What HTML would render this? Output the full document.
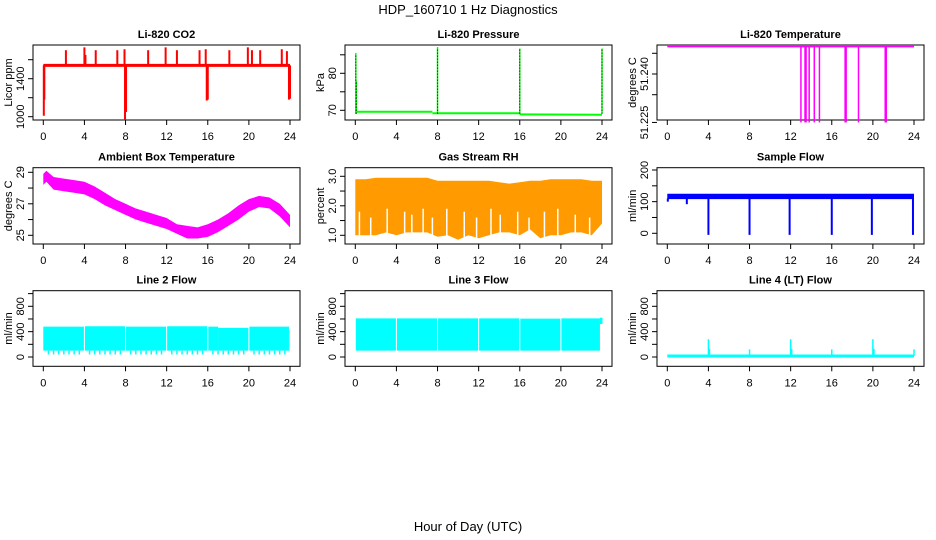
<!DOCTYPE html>
<html><head><meta charset="utf-8"><style>
html,body{margin:0;padding:0;background:#fff}
svg{display:block;font-family:"Liberation Sans",sans-serif}
</style></head><body>
<svg id="c" width="936" height="540" viewBox="0 0 936 540" xmlns="http://www.w3.org/2000/svg">
<text x="468" y="14" text-anchor="middle" font-size="13">HDP_160710  1 Hz Diagnostics</text>
<text x="468" y="531" text-anchor="middle" font-size="13">Hour of Day (UTC)</text>
<g id="plots"></g>
</svg>
<script>
// ---- data ----
const xTicks = [0,4,8,12,16,20,24];
// CO2
const co2Base = 1540;
const co2SpikeHours = [2.2,4.0,4.1,5.1,7.2,7.9,10.2,11.9,13.0,15.2,15.8,18.1,19.9,20.3,21.1,23.2,23.7];
const co2SpikeVals  = [1700,1730,1650,1700,1700,1710,1700,1730,1700,1700,1710,1700,1730,1700,1700,1710,1690];
const co2DropHours = [0.05,0.1,7.95,8.05,15.9,16.0,23.9,24.0];
const co2DropVals  = [1010,1180,965,1050,1170,1180,1180,1190];
const co2Ticks = [1000,1200,1400,1600];
const co2Labels = ["1000","","1400",""];
// Pressure
const presHours = [0,7.5,7.5,16,16,24];
const presVals  = [69.6,69.6,69.2,69.2,68.9,68.8];
const presSpikeHours = [0.05,0.1,8.0,16.0,24.0];
const presSpikeVals  = [85.4,78,87.0,86.7,86.7];
const presTicks = [70,75,80,85];
const presLabels = ["70","","80",""];
// Li-820 temperature
const tempTop = 51.2466;
const tempDropHours = [13.0,13.4,13.5,13.8,14.3,14.8,17.3,17.4,18.6,21.2,21.3];
const tempDropVal = 51.2283;
const tempTicks = [51.2283,51.235,51.240,51.245];
const tempLabels = ["51.225","","51.240",""];
// Ambient box temperature
const ambHours = [0,0.3,1,2,3,4,5,6,7,8,9,10,11,12,13,14,15,16,17,18,19,20,21,22,23,24];
const ambLow   = [28.2,28.4,27.9,27.8,27.7,27.6,27.3,26.9,26.6,26.3,26.0,25.8,25.6,25.4,25.1,24.8,24.8,24.9,25.2,25.6,26.0,26.5,26.8,26.7,26.2,25.5];
const ambHigh  = [28.9,29.1,28.7,28.6,28.5,28.4,28.1,27.7,27.3,27.0,26.7,26.5,26.3,26.1,25.7,25.6,25.5,25.7,26.0,26.4,26.9,27.3,27.5,27.4,27.0,26.3];
const ambTicks = [25,26,27,28,29];
const ambLabels = ["25","","27","","29"];
// RH
const rhHours = [0,1,2,3,4,5,6,7,8,9,10,11,12,13,14,15,16,17,18,19,20,21,22,23,24];
const rhLow   = [1.0,1.0,1.0,1.1,1.0,1.1,1.1,1.1,0.95,1.0,0.85,1.0,0.9,1.0,1.1,1.1,1.0,1.2,0.9,1.0,1.0,1.1,1.1,1.0,1.4];
const rhHigh  = [2.9,2.9,2.95,2.95,2.95,2.95,2.95,2.95,2.85,2.85,2.85,2.85,2.85,2.85,2.8,2.75,2.8,2.85,2.85,2.9,2.9,2.9,2.9,2.85,2.85];
const rhGapHours = [0.4,1.5,3.1,4.8,5.5,6.6,7.5,8.9,10.6,11.8,13.2,14.1,15.8,16.9,18.4,19.7,21.4,22.8];
const rhGapTops  = [1.8,1.6,1.9,1.8,1.7,1.9,1.6,1.9,1.8,1.6,1.9,1.7,1.8,1.6,1.8,1.9,1.7,1.6];
// Sample flow
const sfHours = [0,24];
const sfLow = [108,108];
const sfHigh = [125,125];
const sfDropHours = [0.05,1.9,4.0,8.0,11.9,16.0,19.9,23.9];
const sfDropVals  = [100,92,-5,-5,-5,-5,-5,-5];
const sfTicks = [0,50,100,150,200];
const sfLabels = ["0","","100","","200"];
// Flows
const flowTicks = [0,200,400,600,800,1000];
const flowLabels = ["0","","400","","800",""];
const l2SegStart = [0,4.05,8.05,12.05,16.05,17.0,20.05];
const l2SegEnd   = [3.95,7.95,11.95,15.95,17.0,19.95,23.9];
const l2Top      = [480,485,480,485,480,460,480];
const l2Bottom   = 100;
const l2DipHours = [0.5,1.0,1.5,2.0,2.5,3.0,3.5,4.5,5.0,5.5,6.0,6.5,7.0,7.5,8.5,9.0,9.5,10.0,10.5,11.0,11.5,12.5,13.0,13.5,14.0,14.5,15.0,15.5,16.5,17.0,17.5,18.0,18.5,19.0,19.5,20.5,21.0,21.5,22.0,22.5,23.0,23.5];
const l2DipVal = 40;
const l3SegStart = [0.05,4.05,8.05,12.05,16.05,20.05];
const l3SegEnd   = [3.95,7.95,11.95,15.95,19.95,23.8];
const l3Top      = [610,610,610,610,605,610];
const l3Bottom   = 100;
const l4Base = 15;
const l4SpikeHours = [4.0,4.1,8.0,12.0,12.1,16.0,20.0,20.1,24.0];
const l4SpikeVals  = [280,130,120,280,130,120,280,130,120];

// ---- layout ----
const cols = [[33,300],[345,612],[657,924]];
const rows = [[45,120],[167.7,244],[290.7,366.3]];
const NS="http://www.w3.org/2000/svg";
const root=document.getElementById('plots');
function mk(tag,attrs,parent){const e=document.createElementNS(NS,tag);for(const k in attrs)e.setAttribute(k,attrs[k]);(parent||root).appendChild(e);return e;}

function panel(ci,ri,title,ylab,yv0,ypx0,yv1,ypx1,ticks,labels,name){
  const [L,R]=cols[ci],[T,B]=rows[ri];
  const g=mk('g',{});
  
  
  const x0=L+10.3,x1=R-10;
  const xs=h=>x0+(x1-x0)*h/24;
  const ys=v=>ypx0+(v-yv0)*(ypx1-ypx0)/(yv1-yv0);
  const t=mk('text',{x:(L+R)/2,y:T-7,'text-anchor':'middle','font-size':11,'font-weight':'bold'},g);
  t.textContent=title;
  
  
  const box=mk('rect',{x:L,y:T,width:R-L,height:B-T,fill:'none',stroke:'#000','stroke-width':1},g);
  
  
  const xa=mk('g',{},g);
  
  
  xTicks.forEach(h=>{
    mk('line',{x1:xs(h),x2:xs(h),y1:B,y2:B+5,stroke:'#000'},xa);
    const tl=mk('text',{x:xs(h),y:B+20,'text-anchor':'middle','font-size':11},xa);
    tl.textContent=h;
    
    
  });
  const ya=mk('g',{},g);
  
  
  ticks.forEach((v,i)=>{
    const y=ys(v);
    mk('line',{x1:L-5,x2:L,y1:y,y2:y,stroke:'#000'},ya);
    if(labels[i]){
      const tl=mk('text',{x:L-9,y:y,'text-anchor':'middle','font-size':11,transform:`rotate(-90 ${L-9} ${y})`},ya);
      tl.textContent=labels[i];
      
      
    }
  });
  const yt=mk('text',{x:L-21,y:(T+B)/2,'text-anchor':'middle','font-size':11,transform:`rotate(-90 ${L-21} ${(T+B)/2})`},g);
  yt.textContent=ylab;
  
  
  const d=mk('g',{},g);
  
  
  return {xs,ys,g:d};
}
function band(p,hours,low,high,fill){
  let pts=hours.map((h,i)=>p.xs(h)+','+p.ys(high[i]));
  pts=pts.concat(hours.map((h,i)=>p.xs(h)+','+p.ys(low[i])).reverse());
  const e=mk('polygon',{points:pts.join(' '),fill:fill},p.g);
  
  
  return e;
}
function vline(p,h,v0,v1,color,w,extra){
  const e=mk('line',Object.assign({x1:p.xs(h),x2:p.xs(h),y1:p.ys(v0),y2:p.ys(v1),stroke:color,'stroke-width':w},extra||{}),p.g);
  
  
}
function seg(p,h0,v0,h1,v1,color,w){
  const e=mk('line',{x1:p.xs(h0),x2:p.xs(h1),y1:p.ys(v0),y2:p.ys(v1),stroke:color,'stroke-width':w},p.g);
  
  
}

// CO2
let p=panel(0,0,'Li-820 CO2','Licor ppm',1000,116.7,1600,59.7,co2Ticks,co2Labels,'co2');
seg(p,0,co2Base,24,co2Base,'#f00',3);
co2SpikeHours.forEach((h,i)=>vline(p,h,co2Base,co2SpikeVals[i],'#f00',2));
co2DropHours.forEach((h,i)=>vline(p,h,co2Base,co2DropVals[i],'#f00',2));
// Pressure
p=panel(1,0,'Li-820 Pressure','kPa',70,110.3,80,73.3,presTicks,presLabels,'pressure');
for(let i=0;i<presHours.length-1;i++){ if(presHours[i]!==presHours[i+1]) seg(p,presHours[i],presVals[i],presHours[i+1],presVals[i+1],'#0f0',2); }
presSpikeHours.forEach((h,i)=>{vline(p,h,presVals[0]-0.5,presSpikeVals[i],'#0f0',1.5);vline(p,h,presVals[0]-0.5,presSpikeVals[i],'#000',1,{'stroke-dasharray':'1 2'});});
// Temperature
p=panel(2,0,'Li-820 Temperature','degrees C',51.240,74,51.245,53.3,tempTicks,tempLabels,'li820-temperature');
seg(p,0,tempTop,24,tempTop,'#f0f',1.5);
tempDropHours.forEach(h=>vline(p,h,tempTop,tempDropVal,'#f0f',1.5));
// Ambient
p=panel(0,1,'Ambient Box Temperature','degrees C',25,235.3,29,172.3,ambTicks,ambLabels,'ambient-temperature');
band(p,ambHours,ambLow,ambHigh,'#f0f');
// RH
p=panel(1,1,'Gas Stream RH','percent',1.0,235.3,3.0,176.3,[1.0,1.5,2.0,2.5,3.0],["1.0","","2.0","","3.0"],'gas-rh');
band(p,rhHours,rhLow,rhHigh,'#ff9a00');
rhGapHours.forEach((h,i)=>vline(p,h,0.8,rhGapTops[i],'#fff',1.5));
// Sample flow
p=panel(2,1,'Sample Flow','ml/min',0,233.3,200,170,sfTicks,sfLabels,'sample-flow');
band(p,sfHours,sfLow,sfHigh,'#00f');
sfDropHours.forEach((h,i)=>vline(p,h,110,sfDropVals[i],'#00f',2));
// Line 2
p=panel(0,2,'Line 2 Flow','ml/min',0,357,800,306.3,flowTicks,flowLabels,'line2-flow');
l2SegStart.forEach((h,i)=>band(p,[h,l2SegEnd[i]],[l2Bottom,l2Bottom],[l2Top[i],l2Top[i]],'#0ff'));
band(p,[23.95,24.0],[l2Bottom,l2Bottom],[420,420],'#0ff');
l2DipHours.forEach(h=>vline(p,h,l2Bottom,l2DipVal,'#0ff',1.5));
// Line 3
p=panel(1,2,'Line 3 Flow','ml/min',0,357,800,306.3,flowTicks,flowLabels,'line3-flow');
l3SegStart.forEach((h,i)=>band(p,[h,l3SegEnd[i]],[l3Bottom,l3Bottom],[l3Top[i],l3Top[i]],'#0ff'));
band(p,[23.8,24.05],[520,520],[620,620],'#0ff');
// Line 4
p=panel(2,2,'Line 4 (LT) Flow','ml/min',0,357,800,306.3,flowTicks,flowLabels,'line4-flow');
seg(p,0,l4Base,24,l4Base,'#0ff',3);
l4SpikeHours.forEach((h,i)=>vline(p,h,l4Base,l4SpikeVals[i],'#0ff',1.5));
</script>
</body></html>
